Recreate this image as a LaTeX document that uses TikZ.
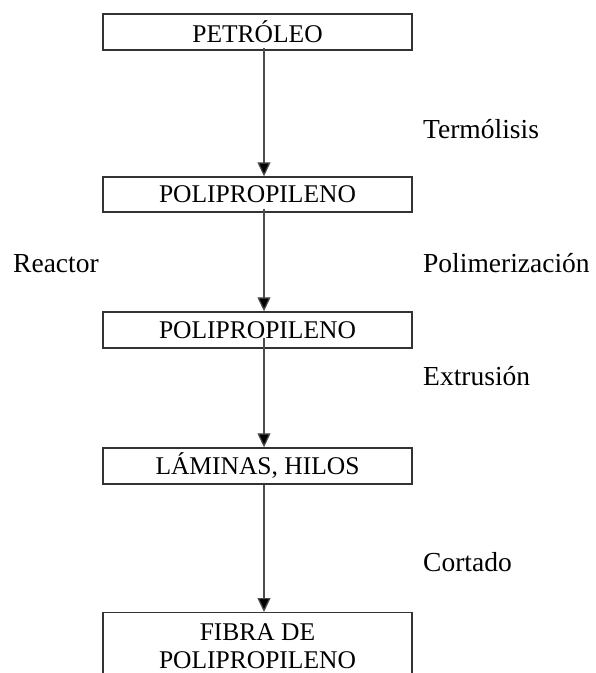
\documentclass[tikz,border=0pt]{standalone}
\usepackage{fontspec}
\setmainfont{Liberation Serif}
\usetikzlibrary{arrows.meta}

\begin{document}
\begin{tikzpicture}[x=1pt, y=-1pt,
    paso/.style={draw=black!80, line width=1.4pt, minimum width=309pt, minimum height=36pt,
        inner sep=0pt, font=\fontsize{25.5}{28}\selectfont, align=center},
    etiqueta/.style={anchor=base west, inner sep=0pt, font=\fontsize{27.5}{30}\selectfont},
    flecha/.style={draw=black!70, line width=1.2pt, -{Triangle[width=13pt, length=14pt, fill=black]}}]
    \useasboundingbox (0,0) rectangle (596,673);
    \clip (0,0) rectangle (596,673);
    % cajas del proceso
    \node[paso] (petroleo) at (257.5,32) {PETRÓLEO};
    \node[paso, minimum height=35pt] (pp1) at (257.5,194.5) {POLIPROPILENO};
    \node[paso] (pp2) at (257.5,330) {POLIPROPILENO};
    \node[paso] (laminas) at (257.5,466) {LÁMINAS, HILOS};
    \node[paso, anchor=north, minimum height=67pt] (fibra) at (257.5,612) {FIBRA DE\\POLIPROPILENO};
    % flechas
    \draw[flecha] ([xshift=6.5pt, yshift=3pt]petroleo.south) -- ([xshift=6.5pt]pp1.north);
    \draw[flecha] ([xshift=6.5pt, yshift=4pt]pp1.south) -- ([xshift=6.5pt]pp2.north);
    \draw[flecha] ([xshift=6.5pt, yshift=11pt]pp2.south) -- ([xshift=6.5pt]laminas.north);
    \draw[flecha] ([xshift=6.5pt]laminas.south) -- ([xshift=6.5pt]fibra.north);
    % operaciones
    \node[etiqueta] (termolisis) at (423,138) {Termólisis};
    \node[etiqueta] (reactor) at (13,272) {Reactor};
    \node[etiqueta] (polimerizacion) at (423,272) {Polimerización};
    \node[etiqueta] (extrusion) at (423,385) {Extrusión};
    \node[etiqueta] (cortado) at (423,571) {Cortado};
\end{tikzpicture}
\end{document}
